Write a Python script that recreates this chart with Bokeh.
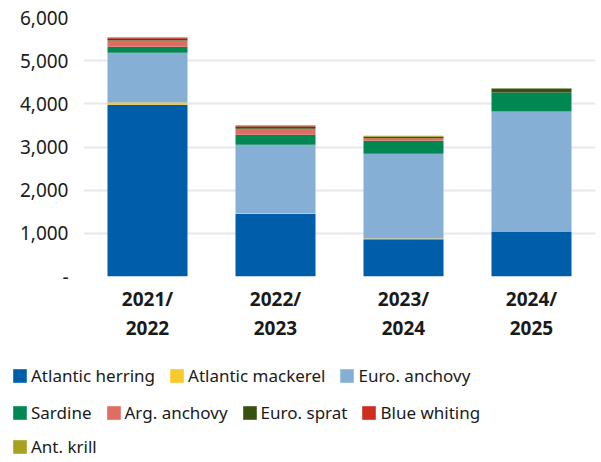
from bokeh.plotting import figure
from bokeh.layouts import column
from bokeh.models import (ColumnDataSource, CategoricalAxis, Legend, LegendItem,
                          NumeralTickFormatter, FixedTicker, Range1d, FactorRange)
from bokeh.embed import file_html
from bokeh.resources import INLINE

seasons = ["2021/2022", "2022/2023", "2023/2024", "2024/2025"]
label_line1 = ["2021/", "2022/", "2023/", "2024/"]
label_line2 = ["2022", "2023", "2024", "2025"]

species = ["Atlantic herring", "Atlantic mackerel", "Euro. anchovy", "Sardine",
           "Arg. anchovy", "Euro. sprat", "Blue whiting", "Ant. krill"]
atlantic_herring = [3980, 1445, 865, 1045]
atlantic_mackerel = [50, 20, 15, 0]
euro_anchovy = [1155, 1590, 1965, 2775]
sardine = [140, 230, 300, 440]
arg_anchovy = [140, 140, 60, 0]
euro_sprat = [45, 50, 30, 95]
blue_whiting = [25, 25, 0, 0]
ant_krill = [0, 0, 25, 0]

colors = ["#005DAA", "#F9C82A", "#86AFD6", "#008752", "#E06C62",
          "#3A5012", "#CD2E1D", "#A6A21F"]

y_ticks = [0, 1000, 2000, 3000, 4000, 5000, 6000]

keys = ["h", "m", "ea", "s", "aa", "es", "bw", "ak"]
data = dict(x=seasons, h=atlantic_herring, m=atlantic_mackerel, ea=euro_anchovy,
            s=sardine, aa=arg_anchovy, es=euro_sprat, bw=blue_whiting, ak=ant_krill)
src = ColumnDataSource(data)

FONT = "Noto Sans"
TXT = "#1a1a1a"

p = figure(x_range=FactorRange(*seasons, range_padding=0), y_range=Range1d(0, 6000),
           width=597, height=345, output_backend="svg",
           toolbar_location=None, min_border_left=83, min_border_top=17,
           min_border_right=2, min_border_bottom=69)
p.frame_align = False
p.outline_line_color = None
p.extra_x_ranges = {"l1": FactorRange(*label_line1, range_padding=0),
                    "l2": FactorRange(*label_line2, range_padding=0)}

rs = p.vbar_stack(keys, x="x", width=0.625, color=colors, source=src, line_width=0)

p.xgrid.grid_line_color = None
p.ygrid.grid_line_color = "#e8e8e8"
p.ygrid.grid_line_width = 2
p.ygrid.ticker = FixedTicker(ticks=y_ticks)

ya = p.yaxis[0]
ya.ticker = FixedTicker(ticks=y_ticks)
ya.formatter = NumeralTickFormatter(format="0,0")
ya.major_label_overrides = {0: "-"}
ya.axis_line_color = None
ya.major_tick_line_color = None
ya.minor_tick_line_color = None
ya.major_label_text_font = FONT
ya.major_label_text_font_size = "19px"
ya.major_label_text_color = TXT
ya.major_label_standoff = 9

p.xaxis[0].visible = False
xa1 = CategoricalAxis(x_range_name="l1")
xa2 = CategoricalAxis(x_range_name="l2")
p.add_layout(xa1, "below")
p.add_layout(xa2, "below")
for ax, st in ((xa1, 3), (xa2, 0)):
    ax.axis_line_color = None
    ax.major_tick_line_color = None
    ax.minor_tick_line_color = None
    ax.major_label_text_font = FONT
    ax.major_label_text_font_size = "19px"
    ax.major_label_text_font_style = "bold"
    ax.major_label_text_color = TXT
    ax.major_label_standoff = st

# legend strip
q = figure(width=597, height=117, output_backend="svg", toolbar_location=None,
           x_range=Range1d(0, 1), y_range=Range1d(0, 1),
           x_axis_type=None, y_axis_type=None,
           min_border_left=0, min_border_right=0, min_border_top=0, min_border_bottom=0)
q.frame_align = False
q.outline_line_color = None
q.xgrid.visible = False
q.ygrid.visible = False
lr = [q.vbar(x=[0.5], top=[0], bottom=[0], width=0.01, fill_color=c, line_color=None)
      for c in colors]

rows = [[0, 1, 2], [3, 4, 5, 6], [7]]
row_y = [75, 38, 4]
for i, row in enumerate(rows):
    items = [LegendItem(label=species[k], renderers=[lr[k]]) for k in row]
    leg = Legend(items=items, orientation="horizontal", location=(11, row_y[i]),
                 border_line_color=None, background_fill_alpha=0,
                 label_text_font=FONT, label_text_font_size="17px",
                 label_text_color=TXT, glyph_width=17, glyph_height=17,
                 label_standoff=3, spacing=13, padding=0,
                 margin=0, label_height=20)
    q.add_layout(leg, "center")

open("out.html", "w").write(file_html(column(p, q, spacing=0), INLINE))
